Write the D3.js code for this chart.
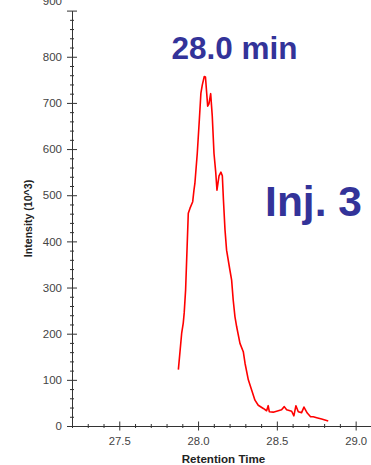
<!DOCTYPE html>
<html>
<head>
<meta charset="utf-8">
<script src="https://cdn.jsdelivr.net/npm/d3@7"></script>
<style>
  html, body { margin: 0; padding: 0; background: #fff; }
  svg { display: block; }
  text { font-family: "Liberation Sans", Arial, Helvetica, sans-serif; }
</style>
</head>
<body>
<svg id="chart" width="371" height="465"></svg>
<script>
// Chromatogram trace: retention time (min) and intensity (x10^3)
const retentionTime = [
  27.875, 27.896, 27.906, 27.912, 27.921, 27.938, 27.949, 27.966, 27.974, 27.980,
  27.995, 28.008, 28.018, 28.027, 28.039, 28.047, 28.061, 28.069, 28.080, 28.090,
  28.101, 28.112, 28.120, 28.133, 28.145, 28.154, 28.161, 28.171, 28.181, 28.202,
  28.213, 28.223, 28.234, 28.245, 28.266, 28.287, 28.298, 28.319, 28.340, 28.361,
  28.382, 28.414, 28.435, 28.445, 28.452, 28.477, 28.509, 28.530, 28.547, 28.562,
  28.594, 28.608, 28.621, 28.636, 28.657, 28.672, 28.693, 28.714, 28.731, 28.753,
  28.784, 28.826
];
const intensity = [
  122, 201, 223, 245, 295, 461, 472, 486, 511, 526,
  591, 663, 721, 739, 757, 756, 693, 698, 720, 672,
  591, 550, 511, 542, 550, 542, 490, 425, 381, 338,
  316, 273, 237, 215, 179, 161, 136, 100, 78, 56,
  45, 38, 33, 44, 31, 30, 33, 35, 42, 35,
  32, 22, 44, 31, 29, 41, 28, 20, 20, 18,
  15, 11
];

// Axis ticks
const xMajorTicks = [27.5, 28.0, 28.5, 29.0];
const xMinorTicks = [27.2, 27.3, 27.4, 27.6, 27.7, 27.8, 27.9, 28.1, 28.2, 28.3, 28.4, 28.6, 28.7, 28.8, 28.9, 29.1];
const yMajorTicks = [0, 100, 200, 300, 400, 500, 600, 700, 800, 900];
const yMinorTicks = d3.range(20, 900, 20).filter(v => v % 100 !== 0);

const titleText = "28.0 min";
const injText = "Inj. 3";
const xLabel = "Retention Time";
const yLabel = "Intensity (10^3)";

const svg = d3.select("#chart");
const axisColor = "#333";
const tickTextColor = "#444";

const x = d3.scaleLinear().domain([27.2, 29.1]).range([72, 371.4]);
const y = d3.scaleLinear().domain([0, 900]).range([426, 10.6]);

// Y axis: major ticks crossing the axis line, labelled
const gy = svg.append("g").attr("transform", `translate(${x(27.2)},0)`);
gy.call(d3.axisLeft(y).tickValues(yMajorTicks).tickFormat(d3.format("d"))
  .tickSize(5).tickSizeOuter(0).tickPadding(5));
gy.selectAll(".tick line").attr("x1", 5);
gy.selectAll(".tick text").attr("font-size", 11.5).attr("font-family", null)
  .attr("fill", tickTextColor)
  .filter(d => d === 900).attr("dy", "-0.55em");
gy.selectAll("path, line").attr("stroke", axisColor);

const gyMinor = svg.append("g").attr("transform", `translate(${x(27.2)},0)`);
gyMinor.call(d3.axisLeft(y).tickValues(yMinorTicks).tickFormat("").tickSize(2).tickSizeOuter(0));
gyMinor.select(".domain").remove();
gyMinor.selectAll(".tick line").attr("x1", 2).attr("stroke", axisColor);

// X axis
const gx = svg.append("g").attr("transform", `translate(0,${y(0)})`);
gx.call(d3.axisBottom(x).tickValues(xMajorTicks).tickFormat(d3.format(".1f"))
  .tickSize(4.5).tickSizeOuter(0).tickPadding(6));
gx.selectAll(".tick line").attr("y1", -4.5);
gx.selectAll(".tick text").attr("font-size", 11.3).attr("font-family", null)
  .attr("fill", tickTextColor);
gx.selectAll("path, line").attr("stroke", axisColor);

const gxMinor = svg.append("g").attr("transform", `translate(0,${y(0)})`);
gxMinor.call(d3.axisBottom(x).tickValues(xMinorTicks).tickFormat("").tickSize(2).tickSizeOuter(0));
gxMinor.select(".domain").remove();
gxMinor.selectAll(".tick line").attr("y1", -2).attr("stroke", axisColor);

// Axis titles
svg.append("text")
  .attr("x", 223.5).attr("y", 463)
  .attr("text-anchor", "middle")
  .attr("font-size", 11.6).attr("font-weight", "bold").attr("fill", "#222")
  .text(xLabel);

svg.append("text")
  .attr("transform", "translate(32,218.5) rotate(-90)")
  .attr("text-anchor", "middle")
  .attr("font-size", 10.6).attr("font-weight", "bold").attr("fill", "#222")
  .text(yLabel);

// Trace
const points = retentionTime.map((t, i) => [t, intensity[i]]);
svg.append("path")
  .datum(points)
  .attr("fill", "none")
  .attr("stroke", "#ff0000")
  .attr("stroke-width", 1.6)
  .attr("stroke-linejoin", "round")
  .attr("d", d3.line().x(d => x(d[0])).y(d => y(d[1])));

// Annotations
svg.append("text")
  .attr("x", 234.5).attr("y", 59.3)
  .attr("text-anchor", "middle")
  .attr("font-size", 31.5).attr("font-weight", "bold").attr("fill", "#333399")
  .text(titleText);

svg.append("text")
  .attr("x", 313.5).attr("y", 216)
  .attr("text-anchor", "middle")
  .attr("font-size", 42.5).attr("font-weight", "bold").attr("fill", "#333399")
  .text(injText);
</script>
</body>
</html>
